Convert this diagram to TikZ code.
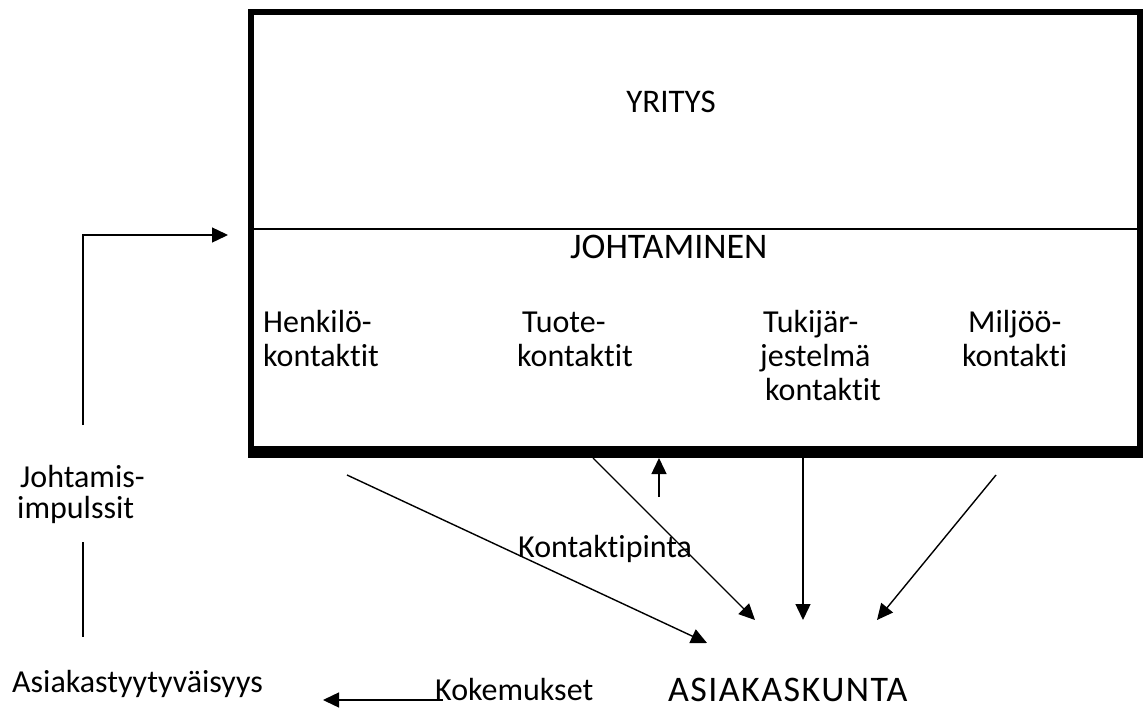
\documentclass[tikz,border=0pt]{standalone}
\usepackage{fontspec}
\setmainfont{Carlito}[Ligatures={NoCommon}]
\newfontfamily\spacedcaps{Carlito}[Ligatures={NoCommon},LetterSpace=4]
\usetikzlibrary{arrows.meta}
\begin{document}
\begin{tikzpicture}[x=1pt,y=-1pt,
  lbl/.style={inner sep=0pt, anchor=base west, font=\fontsize{32}{36}\selectfont},
  capsA/.style={inner sep=0pt, anchor=base west, font=\fontsize{36}{40}\selectfont},
  conn/.style={line width=1.4pt, -{Triangle[length=16pt,width=15pt]}},
  plainline/.style={line width=1.4pt}]
\useasboundingbox (0,0) rectangle (1144,709);
% main box
\node[draw, line width=6pt, outer sep=0pt, inner sep=0pt, anchor=north west,
      minimum width=889pt, minimum height=437pt] (box) at (251,12) {};
\fill (248,446) rectangle (1143,458);
\coordinate (dL) at (254,229);
\coordinate (dR) at (1137,229);
\draw[line width=2pt] (dL) -- (dR);
% texts in box
\node[inner sep=0pt, anchor=base, font=\fontsize{33}{38}\selectfont] (yritys) at (671,113) {YRITYS};
\node[capsA] (johtaminen) at (570,258) {JOHTAMINEN};
\node[lbl] (henk1) at (263,332) {Henkilö-};
\node[lbl] (henk2) at (263,366) {kontaktit};
\node[lbl] (tuote1) at (522,332) {Tuote-};
\node[lbl] (tuote2) at (517,366) {kontaktit};
\node[lbl] (tuki1) at (763,332) {Tukijär-};
\node[lbl] (tuki2) at (760,366) {jestelmä};
\node[lbl] (tuki3) at (765,400) {kontaktit};
\node[lbl] (milj1) at (968,332) {Miljöö-};
\node[lbl] (milj2) at (962,366) {kontakti};
% outside texts
\node[lbl] (joht1) at (20,487) {Johtamis-};
\node[lbl] (joht2) at (17,518) {impulssit};
\node[lbl] (kontaktipinta) at (518,557) {Kontaktipinta};
\node[lbl] (tyyt) at (12,692) {Asiakastyytyväisyys};
\node[lbl] (kokemukset) at (435,700) {Kokemukset};
\node[inner sep=0pt, anchor=base west, font=\spacedcaps\fontsize{36}{40}\selectfont] (asiakaskunta) at (668,701) {ASIAKASKUNTA};
% connector coordinates
\coordinate (s1) at (347,475);  \coordinate (e1) at (707,643);
\coordinate (s2) at (593,458);  \coordinate (e2) at (755,620);
\coordinate (s3) at (659,497);  \coordinate (e3) at (659,458);
\coordinate (s4) at (803,458);  \coordinate (e4) at (803,620);
\coordinate (s5) at (996,475);  \coordinate (e5) at (877,620);
\coordinate (f1) at (83,425);   \coordinate (f2) at (83,235);  \coordinate (f3) at (228,235);
\coordinate (g1) at (83,542);   \coordinate (g2) at (83,637);
\coordinate (k1) at (443,700);  \coordinate (k2) at (323,700);
% connectors
\draw[conn] (s1) -- (e1);
\draw[conn] (s2) -- (e2);
\draw[conn] (s3) -- (e3);
\draw[conn] (s4) -- (e4);
\draw[conn] (s5) -- (e5);
\draw[conn] (f1) -- (f2) -- (f3);
\draw[plainline] (g1) -- (g2);
\draw[conn] (k1) -- (k2);
\end{tikzpicture}
\end{document}
